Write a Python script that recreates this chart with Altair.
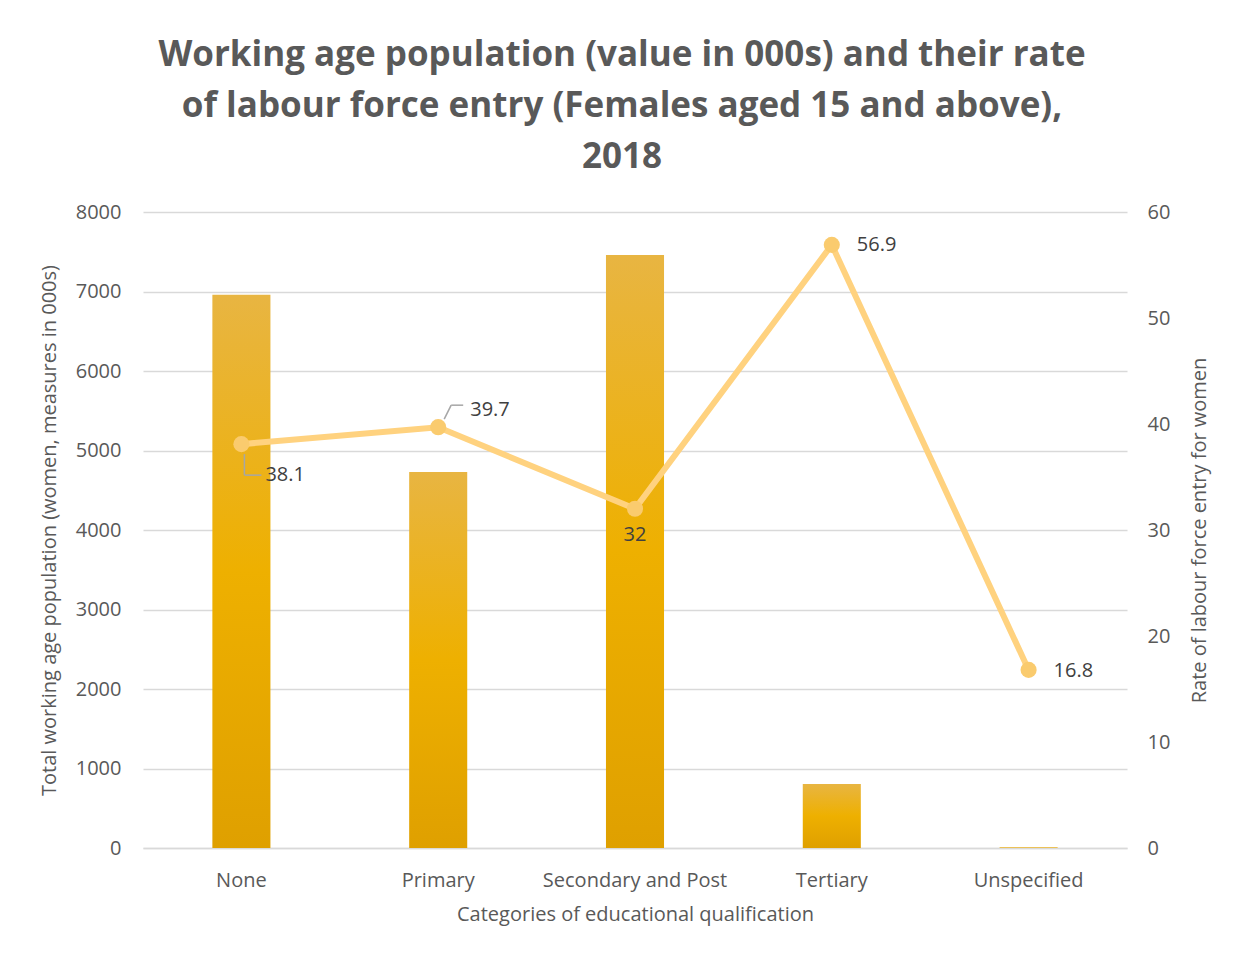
import altair as alt
import pandas as pd

categories = ["None", "Primary", "Secondary and Post", "Tertiary", "Unspecified"]
population = [6960, 4730, 7460, 805, 8]
rate = [38.1, 39.7, 32.0, 56.9, 16.8]
rate_labels = ["38.1", "39.7", "32", "56.9", "16.8"]

df = pd.DataFrame({"cat": categories, "pop": population, "rate": rate, "lbl": rate_labels})

FONT = "Open Sans"
GREY = "#595959"
FS = 20

x_enc = alt.X("cat:N", sort=categories,
              scale=alt.Scale(paddingInner=0.705, paddingOuter=0.3525),
              axis=alt.Axis(title="Categories of educational qualification", labelAngle=0,
                            labelFontSize=FS, titleFontSize=FS, labelColor=GREY, titleColor=GREY,
                            titleFontWeight="normal", labelFont=FONT, titleFont=FONT,
                            labelLimit=400,
                            ticks=False, domain=True, domainColor="#D9D9D9", domainWidth=1.5,
                            labelPadding=22, titlePadding=14))

grad = alt.Gradient(gradient="linear",
                    stops=[alt.GradientStop(color="#E8B542", offset=0),
                           alt.GradientStop(color="#EEB000", offset=0.5),
                           alt.GradientStop(color="#DFA000", offset=1)],
                    x1=0, x2=0, y1=0, y2=1)

bars = alt.Chart(df).mark_bar(color=grad).encode(
    x=x_enc,
    y=alt.Y("pop:Q", scale=alt.Scale(domain=[0, 8000]),
            axis=alt.Axis(title="Total working age population (women, measures in 000s)",
                          values=list(range(0, 8001, 1000)), format="d",
                          labelFontSize=FS, titleFontSize=FS,
                          labelColor=GREY, titleColor=GREY, titleFontWeight="normal",
                          labelFont=FONT, titleFont=FONT, ticks=False, domain=False,
                          gridColor="#D9D9D9", gridWidth=1.5, labelPadding=22, titlePadding=16)),
)

y2_enc = alt.Y("rate:Q", scale=alt.Scale(domain=[0, 60]),
               axis=alt.Axis(title="Rate of labour force entry for women", orient="right",
                             values=list(range(0, 61, 10)), labelFontSize=FS, titleFontSize=FS,
                             labelColor=GREY, titleColor=GREY, titleFontWeight="normal",
                             labelFont=FONT, titleFont=FONT, ticks=False, domain=False, grid=False,
                             labelPadding=20, titlePadding=40, titleAngle=270))

line = alt.Chart(df).mark_line(color="#FFD27F", strokeWidth=6).encode(
    x=alt.X("cat:N", sort=categories), y=y2_enc)

pts = alt.Chart(df).mark_point(filled=True, color="#FACB6E", size=260, opacity=1).encode(
    x=alt.X("cat:N", sort=categories), y=alt.Y("rate:Q"))

def lbl(cat, dx, dy, align):
    return alt.Chart(df).transform_filter(alt.datum.cat == cat).mark_text(
        dx=dx, dy=dy, align=align, fontSize=FS, font=FONT, color="#404040", baseline="middle"
    ).encode(x=alt.X("cat:N", sort=categories), y=alt.Y("rate:Q"), text="lbl:N")

labels = [
    lbl("None", 24, 31, "left"),
    lbl("Primary", 32, -17, "left"),
    lbl("Secondary and Post", 0, 26, "center"),
    lbl("Tertiary", 25, 0, "left"),
    lbl("Unspecified", 25, 1, "left"),
]

def leader(cat, pts_off):
    out = []
    for (a, b, c, d) in pts_off:
        out.append(alt.Chart(df).transform_filter(alt.datum.cat == cat).mark_rule(
            color="#A6A6A6", strokeWidth=1.5, xOffset=a, yOffset=b, x2Offset=c, y2Offset=d
        ).encode(x=alt.X("cat:N", sort=categories), x2=alt.X2("cat"),
                 y=alt.Y("rate:Q"), y2=alt.Y2("rate")))
    return out

leaders = leader("None", [(3, 10, 3, 31), (3, 31, 20, 31)]) + \
          leader("Primary", [(6, -8, 13, -22), (13, -22, 25, -22)])

right = alt.layer(line, *leaders, pts, *labels)

chart = alt.layer(bars, right).resolve_scale(y="independent").properties(
    width=984, height=636,
    padding={"left": 31, "top": 30, "right": 5, "bottom": 5},
    background="white",
    title=alt.TitleParams(
        text=["Working age population (value in 000s) and their rate",
              "of labour force entry (Females aged 15 and above),", "2018"],
        fontSize=35, font=FONT, fontWeight="bold", color=GREY, lineHeight=51,
        anchor="middle", offset=27, dx=-13),
).configure_view(stroke=None)

chart.save("out.html", embed_options={"renderer": "svg", "actions": False})
